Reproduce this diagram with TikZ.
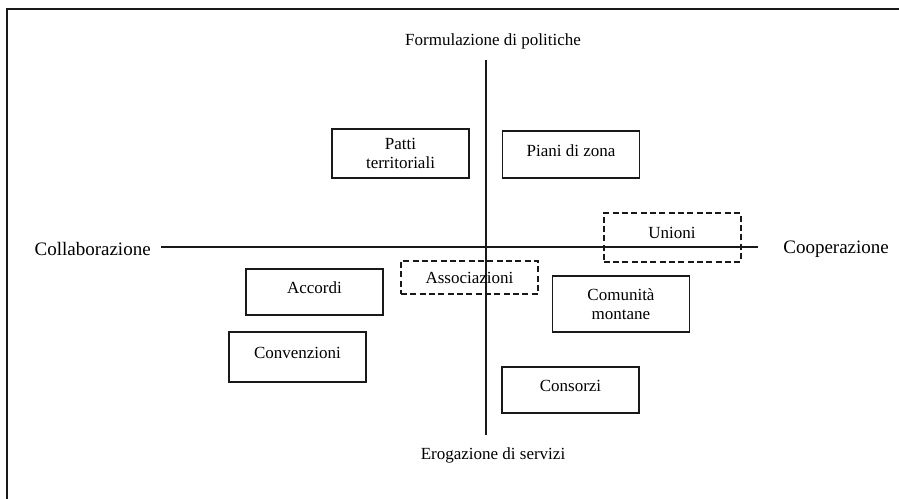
\documentclass[tikz,border=0pt]{standalone}
\usepackage{fontspec}
\setmainfont{Liberation Serif}
\usepackage{tikz}
\usetikzlibrary{positioning}
\definecolor{lineblack}{RGB}{25,25,25}
\tikzstyle{box} = [draw=lineblack, line width=0.8pt, minimum width=82.2pt, align=center, inner sep=2pt, font=\fontsize{10.2}{11.4}\selectfont]
\tikzstyle{highbox} = [box, text depth=0.5em]
\tikzstyle{dashbox} = [box, line width=1.2pt, dash pattern=on 3.6pt off 2pt]
\tikzstyle{axis} = [line width=0.9pt, color=lineblack]
\tikzstyle{axislabel} = [font=\fontsize{10.2}{12}\selectfont]
\tikzstyle{sidelabel} = [inner sep=0pt, font=\fontsize{11.4}{13}\selectfont]

\begin{document}
\begin{tikzpicture}[x=0.6pt, y=-0.6pt]
\useasboundingbox (0,0) rectangle (899,499);
\clip (0,0) rectangle (899,499);
% outer frame
\draw[line width=1.2pt, lineblack] (7,9) rectangle (930,530);

% axes
\coordinate (W) at (161,247);
\coordinate (E) at (758,247);
\coordinate (N) at (486,60);
\coordinate (S) at (486,435);
\draw[axis] (W) -- (E);
\draw[axis] (N) -- (S);

\node[sidelabel, anchor=east] (collab) at (151,249) {Collaborazione};
\node[sidelabel, anchor=west] (coop) at (783,249) {Cooperazione};
\node[axislabel] (form) at (493,41) {Formulazione di politiche};
\node[axislabel] (erog) at (493,455) {Erogazione di servizi};

% upper quadrants
\node[box, minimum height=29.4pt] (patti) at (400.5,153.5) {Patti\\territoriali};
\node[highbox, minimum height=28.2pt] (piani) at (571,154.5) {Piani di zona};

% dashed forms
\node[dashbox, text depth=0.5em, minimum height=29.4pt] (unioni) at (672,237.5) {Unioni};
\node[dashbox, minimum height=19.8pt] (assoc) at (469.5,277.5) {Associazioni};

% lower quadrants
\node[box, minimum height=33.6pt] (comunita) at (621,304) {Comunità\\montane};
\node[highbox, minimum height=27.6pt] (accordi) at (314.5,292) {Accordi};
\node[highbox, minimum height=30pt] (conv) at (297.5,357) {Convenzioni};
\node[highbox, minimum height=27.6pt] (consorzi) at (570.5,390) {Consorzi};
\end{tikzpicture}
\end{document}
